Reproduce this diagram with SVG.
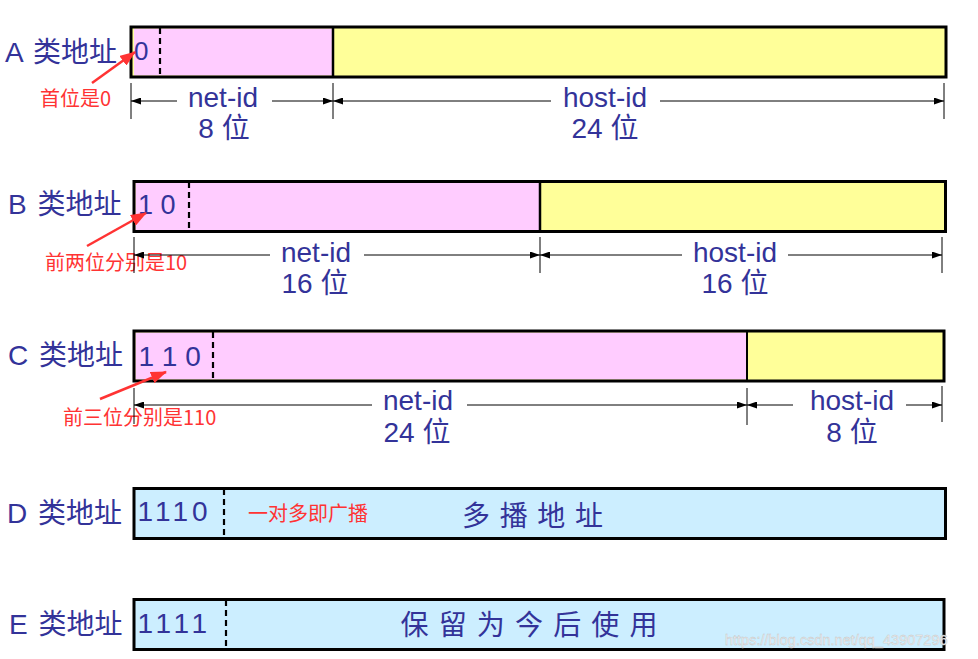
<svg xmlns="http://www.w3.org/2000/svg" width="978" height="659" viewBox="0 0 978 659">
<style>
.lbl{font-family:"Liberation Sans","Noto Sans CJK SC",sans-serif;font-size:28px;fill:#333399}
.bits{font-family:"Liberation Sans","Noto Sans CJK SC",sans-serif;font-size:28px;fill:#333399}
.dim{font-family:"Liberation Sans","Noto Sans CJK SC",sans-serif;font-size:28px;fill:#333399;text-anchor:middle}
.cjk{font-family:"Noto Sans CJK SC",sans-serif;font-size:28px;fill:#333399}
.note{font-family:"Noto Sans CJK SC",sans-serif;font-size:20px;fill:#ff3333}
.box{stroke:#000;stroke-width:3;fill:none}
.div{stroke:#000;stroke-width:2.5}
.dash{stroke:#000;stroke-width:2.2;stroke-dasharray:6,4}
.tick{stroke:#000;stroke-width:1}
.dl{stroke:#000;stroke-width:1;fill:none;marker-end:url(#ah);marker-start:url(#ah)}
.ra{stroke:#ff3333;stroke-width:2.5;fill:none;marker-end:url(#rh)}
</style>
<defs>
<marker id="ah" markerUnits="userSpaceOnUse" markerWidth="10" markerHeight="7" refX="10" refY="3.5" orient="auto-start-reverse"><path d="M0,0 L10,3.5 L0,7 z" fill="#000"/></marker>
<marker id="rh" markerUnits="userSpaceOnUse" markerWidth="16" markerHeight="12" refX="15" refY="6" orient="auto"><path d="M0,0 L16,6 L0,12 z" fill="#ff3333"/></marker>
</defs>
<rect width="978" height="659" fill="#fff"/>

<g id="classA">
<text class="lbl" x="5" y="62" style="word-spacing:3px">A 类地址</text>
<rect x="131" y="27" width="815" height="50" fill="#ffff99"/>
<rect x="134" y="28.5" width="199" height="47" fill="#ffccff"/>
<line class="div" x1="333" y1="27" x2="333" y2="77"/>
<line class="dash" x1="160" y1="28" x2="160" y2="77"/>
<rect class="box" x="131" y="27" width="815" height="50"/>
<text class="bits" x="134" y="60" style="font-size:26px">0</text>
<text class="dim" x="223" y="107">net-id</text>
<text class="dim" x="224" y="138">8 位</text>
<text class="dim" x="605" y="107">host-id</text>
<text class="dim" x="605" y="138">24 位</text>
<text class="note" x="40" y="106">首位是0</text>
</g>

<g id="classB">
<text class="lbl" x="8" y="214" style="word-spacing:3px">B 类地址</text>
<rect x="134" y="181.5" width="811.5" height="50" fill="#ffff99"/>
<rect x="135.5" y="183" width="404.5" height="47" fill="#ffccff"/>
<line class="div" x1="540" y1="181.5" x2="540" y2="231.5"/>
<line class="dash" x1="189" y1="182" x2="189" y2="231"/>
<rect class="box" x="134" y="181.5" width="811.5" height="50"/>
<text class="bits" x="138" y="214" style="font-size:27px">1 0</text>
<text class="dim" x="316" y="262">net-id</text>
<text class="dim" x="315" y="293">16 位</text>
<text class="dim" x="735" y="262">host-id</text>
<text class="dim" x="735" y="293">16 位</text>
<text class="note" x="45" y="270">前两位分别是10</text>
</g>

<g id="classC">
<text class="lbl" x="8" y="365" style="word-spacing:3px">C 类地址</text>
<rect x="134" y="331" width="810" height="50" fill="#ffff99"/>
<rect x="135.5" y="332.5" width="611.5" height="47" fill="#ffccff"/>
<line class="div" x1="747" y1="331" x2="747" y2="381" style="stroke-width:2"/>
<line class="dash" x1="213" y1="332" x2="213" y2="380"/>
<rect class="box" x="134" y="331" width="810" height="50"/>
<text class="bits" x="138.5" y="366">1 1 0</text>
<text class="dim" x="418" y="410">net-id</text>
<text class="dim" x="417" y="442">24 位</text>
<text class="dim" x="852" y="410">host-id</text>
<text class="dim" x="852" y="442">8 位</text>
<text class="note" x="63" y="425">前三位分别是110</text>
</g>

<g id="classD">
<text class="lbl" x="7" y="523" style="word-spacing:3px">D 类地址</text>
<rect x="134" y="488.5" width="811.5" height="50" fill="#cceeff"/>
<line class="dash" x1="224" y1="489" x2="224" y2="538"/>
<rect class="box" x="134" y="488.5" width="811.5" height="50"/>
<text class="bits" x="137.5" y="521" style="letter-spacing:4px">1110</text>
<text class="note" x="248" y="521">一对多即广播</text>
<text class="cjk" x="462" y="526" textLength="141" lengthAdjust="spacing">多 播 地 址</text>
</g>

<g id="classE">
<text class="lbl" x="9" y="634" style="word-spacing:3px">E 类地址</text>
<rect x="134" y="599.5" width="810" height="50" fill="#cceeff"/>
<line class="dash" x1="226" y1="600" x2="226" y2="650"/>
<rect class="box" x="134" y="599.5" width="810" height="50"/>
<text class="bits" x="137.5" y="633" style="letter-spacing:4.5px">1111</text>
<text class="cjk" x="400.5" y="635" textLength="257" lengthAdjust="spacing">保 留 为 今 后 使 用</text>
</g>

<g id="connectors">
<line class="tick" x1="131" y1="83" x2="131" y2="119"/>
<line class="tick" x1="333" y1="83" x2="333" y2="119"/>
<line class="tick" x1="944" y1="83" x2="944" y2="119"/>
<path class="dl" d="M131,101 L177,101" style="marker-end:none"/>
<path class="dl" d="M272,101 L333,101" style="marker-start:none"/>
<path class="dl" d="M333,101 L551,101" style="marker-end:none"/>
<path class="dl" d="M660,101 L944,101" style="marker-start:none"/>
<line class="tick" x1="134" y1="237" x2="134" y2="273"/>
<line class="tick" x1="540" y1="237" x2="540" y2="273"/>
<line class="tick" x1="942" y1="237" x2="942" y2="273"/>
<path class="dl" d="M134,255 L270,255" style="marker-end:none"/>
<path class="dl" d="M364,255 L540,255" style="marker-start:none"/>
<path class="dl" d="M540,255 L682,255" style="marker-end:none"/>
<path class="dl" d="M788,255 L942,255" style="marker-start:none"/>
<line class="tick" x1="134" y1="388" x2="134" y2="424"/>
<line class="tick" x1="747" y1="388" x2="747" y2="425"/>
<line class="tick" x1="942" y1="386" x2="942" y2="422"/>
<path class="dl" d="M134,405 L372,405" style="marker-end:none"/>
<path class="dl" d="M467,405 L747,405" style="marker-start:none"/>
<path class="dl" d="M747,405 L793,405" style="marker-end:none"/>
<path class="dl" d="M906,405 L942,405" style="marker-start:none"/>
<line class="ra" x1="92" y1="83" x2="135" y2="52"/>
<line class="ra" x1="87" y1="246" x2="146" y2="213"/>
<line class="ra" x1="100" y1="399" x2="166" y2="372"/>
</g>

<text x="725" y="645" style="font-family:'Liberation Sans',sans-serif;font-size:14.5px;fill:#f2f2f2;stroke:#c4c4c4;stroke-width:0.4">https://blog.csdn.net/qq_43907296</text>
</svg>
